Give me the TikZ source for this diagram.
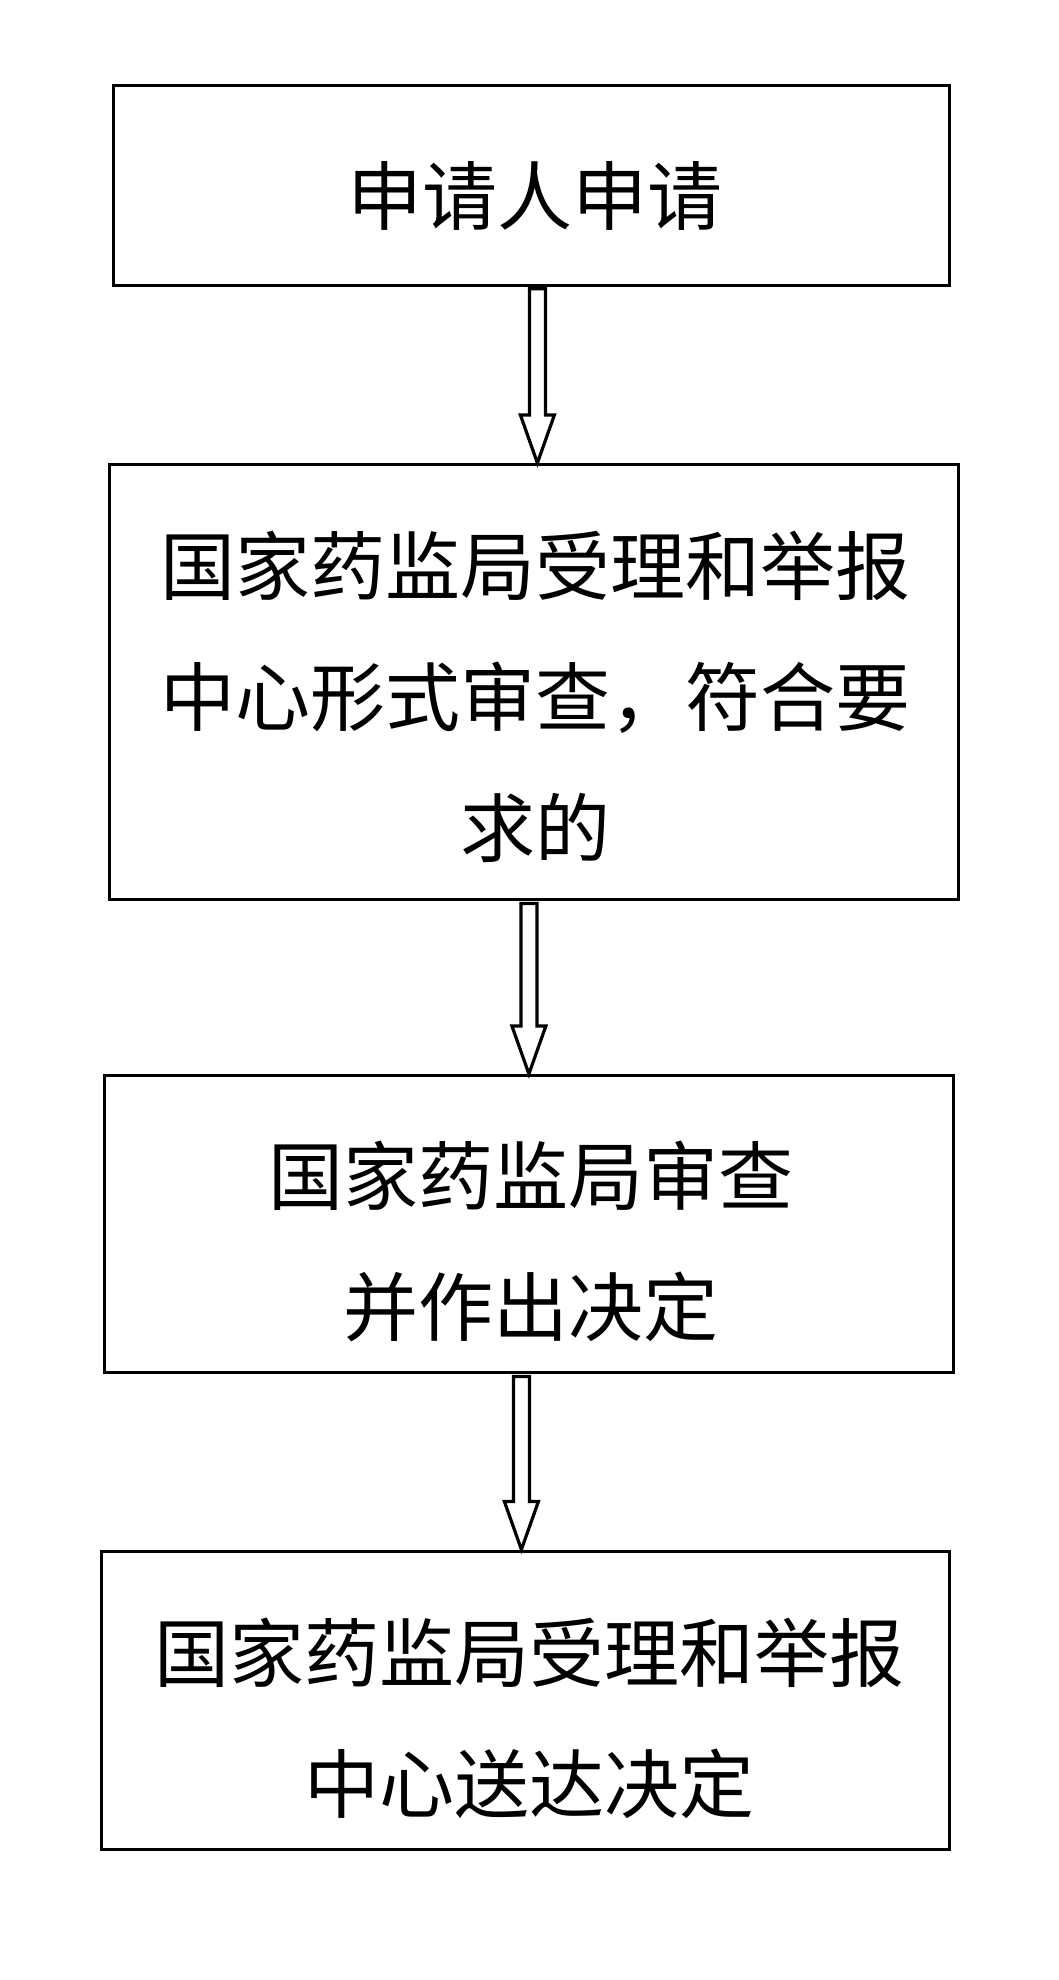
\documentclass[tikz,border=0pt]{standalone}
\usepackage{fontspec}
\setmainfont{Noto Sans CJK SC}
\usetikzlibrary{calc}
\tikzset{
  box/.style={draw=black, line width=3pt, rectangle, inner sep=0pt},
  txt/.style={align=center, font=\fontsize{75}{131}\selectfont, inner sep=0pt},
  blockarrow/.style={draw=black, line width=3.2pt, fill=white, line join=miter}
}
\begin{document}
\begin{tikzpicture}[x=1pt,y=-1pt]
\useasboundingbox (0,0) rectangle (1059,1980);
% boxes
\node[box, minimum width=835.6pt, minimum height=199.5pt] (b1) at (531.4,185.5) {};
\node[box, minimum width=848.2pt, minimum height=435.5pt] (b2) at (533.9,682.2) {};
\node[box, minimum width=848.2pt, minimum height=296.6pt] (b3) at (528.9,1223.7) {};
\node[box, minimum width=848pt, minimum height=298pt] (b4) at (525,1700) {};
% texts
\node[txt] (t1) at (535,196) {申请人申请};
\node[txt] (t2) at (535,696.5) {国家药监局受理和举报\\中心形式审查，符合要\\求的};
\node[txt] (t3) at (531,1241.5) {国家药监局审查\\并作出决定};
\node[txt] (t4) at (529,1718) {国家药监局受理和举报\\中心送达决定};
% arrow anchors
\coordinate (a1s) at ($(b1.south)+(6,2)$);
\coordinate (a1e) at ($(b2.north -| a1s)$);
\coordinate (a2s) at ($(b2.south)+(-5,2)$);
\coordinate (a2e) at ($(b3.north -| a2s)$);
\coordinate (a3s) at ($(b3.south)+(-7.5,3)$);
\coordinate (a3e) at ($(b4.north -| a3s)$);
\foreach \s/\e in {a1s/a1e, a2s/a2e, a3s/a3e}{
  \draw[blockarrow] ($(\s)+(-8,0)$) -- ($(\s)+(8,0)$) -- ($(\e)+(8,-48)$) -- ($(\e)+(17,-48)$)
     -- (\e) -- ($(\e)+(-17,-48)$) -- ($(\e)+(-8,-48)$) -- cycle;
}
\end{tikzpicture}
\end{document}
